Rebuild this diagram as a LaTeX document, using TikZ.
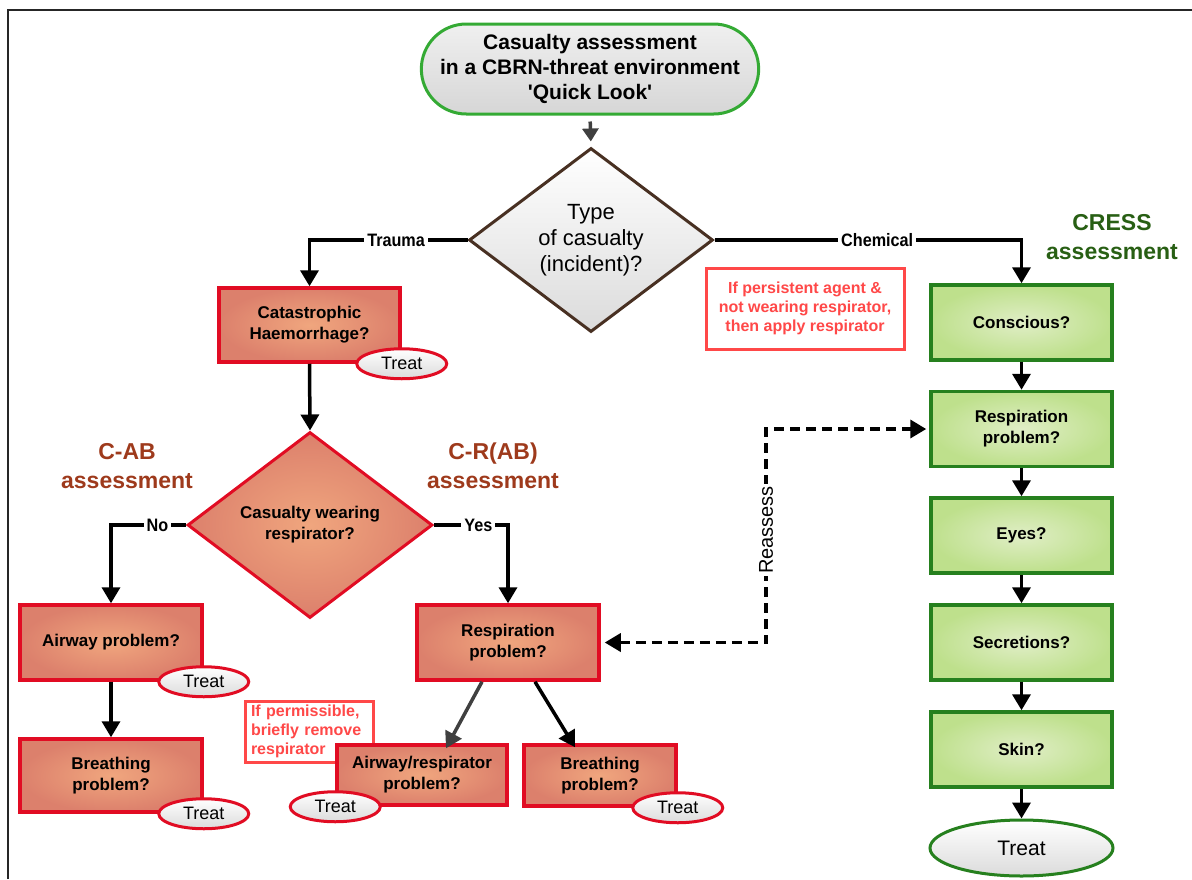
\documentclass[tikz,border=0pt]{standalone}
\usepackage{fontspec}
\setmainfont{Liberation Sans}
\newfontfamily\condf[FakeStretch=0.9]{Liberation Sans}
\usetikzlibrary{arrows.meta,shapes.geometric,shapes.misc}
\newcommand{\setfs}[2]{\fontsize{#1}{#2}\selectfont}
\definecolor{redb}{RGB}{225,12,35}
\definecolor{orin}{RGB}{240,166,126}
\definecolor{orout}{RGB}{220,128,108}
\definecolor{greenb}{RGB}{38,128,30}
\definecolor{grin}{RGB}{224,238,198}
\definecolor{grout}{RGB}{190,224,140}
\definecolor{startb}{RGB}{52,170,52}
\definecolor{notered}{RGB}{255,72,72}
\definecolor{cabcol}{RGB}{158,58,28}
\definecolor{cresscol}{RGB}{40,95,20}
\definecolor{brownb}{RGB}{72,48,34}
\begin{document}
\begin{tikzpicture}[x=1pt,y=-1pt,
  redbox/.style={rectangle, draw=redb, line width=3.5pt, shading=radial, inner color=orin, outer color=orout,
    minimum width=182pt, minimum height=75pt, inner sep=0pt, align=center, font=\setfs{17}{21}\bfseries},
  grbox/.style={rectangle, draw=greenb, line width=3.5pt, shading=radial, inner color=grin, outer color=grout,
    minimum width=181pt, minimum height=75pt, inner sep=0pt, align=center, font=\setfs{17}{21}\bfseries},
  treat/.style={ellipse, draw=redb, line width=3pt, top color=white, bottom color=black!14,
    minimum width=90pt, minimum height=30pt, inner sep=0pt, font=\setfs{18}{20}},
  note/.style={rectangle, draw=notered, line width=3pt, fill=white, text=notered, font=\setfs{16}{19}\bfseries},
  tip/.tip={Triangle[width=18pt,length=16pt]},
  conn/.style={line width=3.5pt, -tip},
  branch/.style={fill=white, inner sep=3pt, font=\condf\setfs{18}{20}\bfseries},
  heading/.style={align=center, font=\setfs{23}{29}\bfseries},
]
\useasboundingbox (0,0) rectangle (1192,879);
\draw[line width=2.5pt, black!85] (8,879) -- (8,10) -- (1192,10);

% start
\node[rounded rectangle, draw=startb, line width=3pt, top color=black!6, bottom color=black!16,
  minimum width=344pt, minimum height=90pt, align=center, font=\setfs{21}{25}\bfseries] (start) at (590,69)
  {Casualty assessment\\in a CBRN-threat environment\\\textquotesingle Quick Look\textquotesingle};

% decision 1
\node[diamond, aspect=1.33, draw=brownb, line width=3pt, top color=white, bottom color=black!14,
  minimum width=244pt, minimum height=184pt, inner sep=0pt, align=center, font=\setfs{22}{26}] (type) at (591,240)
  {Type\\of casualty\\(incident)?};

% headings
\node[heading, text=cabcol] (cab) at (127,466) {C-AB\\assessment};
\node[heading, text=cabcol] (crab) at (493,466) {C-R(AB)\\assessment};
\node[heading, text=cresscol] (cress) at (1112,237) {CRESS\\assessment};

% trauma branch
\node[redbox, minimum width=181pt, minimum height=74pt] (cat) at (309.5,325) {Catastrophic\\Haemorrhage?};
\node[diamond, aspect=1.32, draw=redb, line width=3pt, shading=radial, inner color=orin, outer color=orout,
  minimum width=245pt, minimum height=186pt, inner sep=0pt, align=center, font=\setfs{17}{21}\bfseries] (wear) at (310,525)
  {Casualty wearing\\respirator?};

\node[redbox] (air) at (111,642.5) {Airway problem?};
\node[redbox, minimum height=73pt] (br1) at (111,775.5) {Breathing\\problem?};
\node[redbox] (resp) at (508,642.5) {Respiration\\problem?};

\node[note, minimum width=128pt, minimum height=61pt, text width=116pt, align=left, inner sep=4pt] (note2) at (309,731.5)
  {If permissible,\\briefly remove\\respirator};
\node[redbox, minimum width=170pt, minimum height=60pt] (awr) at (422,775) {Airway/respirator\\problem?};
\node[redbox, minimum width=152pt, minimum height=61pt] (br2) at (600,775.5) {Breathing\\problem?};

% chemical branch
\node[note, minimum width=198pt, minimum height=81pt, align=center] (note1) at (805,308.5)
  {If persistent agent \&\\not wearing respirator,\\then apply respirator};
\node[grbox] (cons) at (1021.5,322.5) {Conscious?};
\node[grbox] (gresp) at (1021.5,429) {Respiration\\problem?};
\node[grbox] (eyes) at (1021.5,535.5) {Eyes?};
\node[grbox] (secr) at (1021.5,642.5) {Secretions?};
\node[grbox] (skin) at (1021.5,749.5) {Skin?};
\node[ellipse, draw=greenb, line width=3pt, top color=white, bottom color=black!14,
  minimum width=183pt, minimum height=56pt, inner sep=0pt, font=\setfs{21}{24}] (gtreat) at (1021.5,848) {Treat};

% treat ellipses
\node[treat] (t1) at (cat.south east) {Treat};
\node[treat] (t2) at (air.south east) {Treat};
\node[treat] (t3) at (br1.south east) {Treat};
\node[treat] (t4) at (awr.south west) {Treat};
\node[treat] (t5) at (br2.south east) {Treat};

% connectors
\draw[line width=3.5pt, black!75, -{Triangle[width=16pt,length=13pt]}, shorten <=6pt, shorten >=5pt] (start.south) -- (type.north);
\draw[conn] (type.west) -| node[branch, pos=0.226] (ltrauma) {Trauma} (cat.north);
\draw[conn] (type.east) -| node[branch, pos=0.265] (lchem) {Chemical} (cons.north);
\draw[conn] (cat.south) -- (wear.north);
\draw[conn] (wear.west) -| node[branch, pos=0.19] (lno) {No} (air.north);
\draw[conn] (wear.east) -| node[branch, pos=0.3] (lyes) {Yes} (resp.north);
\draw[conn] (air.south) -- (br1.north);
\draw[conn, black!75] ([xshift=-26pt]resp.south) -- ([xshift=24pt, yshift=-5pt]awr.north);
\draw[conn] ([xshift=27pt]resp.south) -- ([xshift=-25pt, yshift=-4pt]br2.north);
\draw[conn] (cons.south) -- (gresp.north);
\draw[conn] (gresp.south) -- (eyes.north);
\draw[conn] (eyes.south) -- (secr.north);
\draw[conn] (secr.south) -- (skin.north);
\draw[conn] (skin.south) -- (gtreat.north);

% reassess
\coordinate (rx) at (766,0);
\draw[line width=3.5pt, dash pattern=on 10pt off 6pt, tip-tip, shorten <=4pt, shorten >=3pt]
  (resp.east) -- (resp.east -| rx) |- (gresp.west);
\node[fill=white, rotate=90, inner sep=2pt, font=\setfs{20}{22}] (lreass) at (766,530) {Reassess};
\end{tikzpicture}
\end{document}
